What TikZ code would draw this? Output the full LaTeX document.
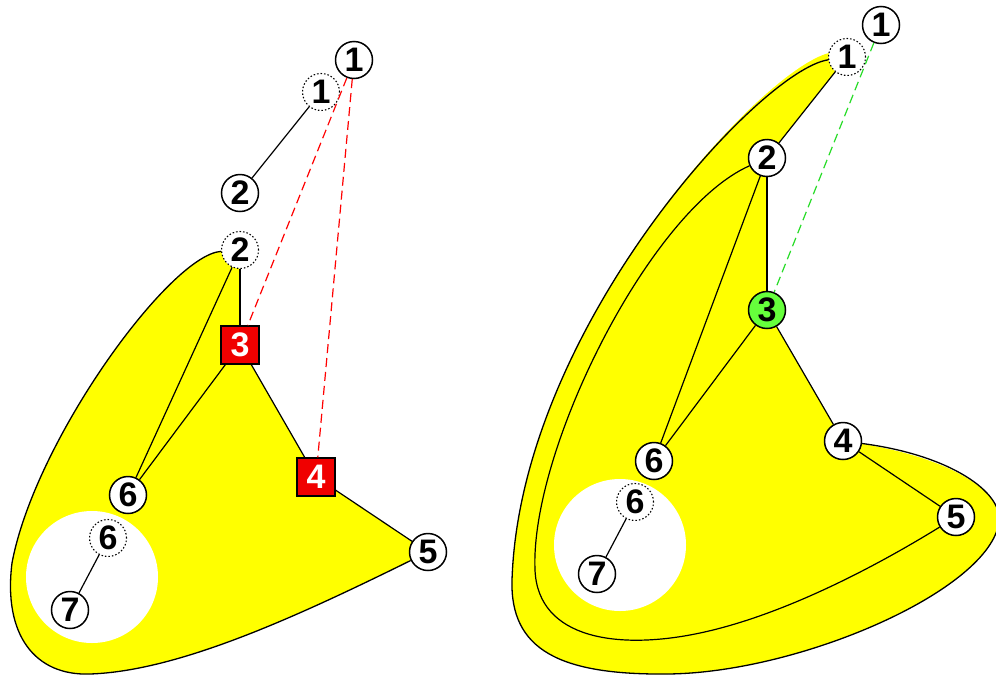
\documentclass[tikz,border=0pt]{standalone}
\usepackage{fontspec}
\setmainfont{Liberation Sans}
\definecolor{hlred}{RGB}{240,0,0}
\definecolor{hlyellow}{RGB}{255,255,0}
\definecolor{hlgreen}{RGB}{102,255,60}
\definecolor{dashgreen}{RGB}{40,220,40}
\tikzset{
  vnode/.style={circle,draw=black,line width=1.5pt,fill=white,minimum size=37pt,inner sep=0pt,
    font=\fontsize{34}{36}\selectfont\bfseries},
  vdot/.style={vnode,dotted,line width=1.1pt},
  vsq/.style={rectangle,draw=black,line width=1.3pt,fill=hlred,minimum size=38pt,inner sep=0pt,
    text=white,font=\fontsize{34}{36}\selectfont\bfseries},
  vgreen/.style={vnode,fill=hlgreen},
  edge/.style={draw=black,line width=1.2pt},
  outline/.style={draw=black,line width=1.3pt},
  reddash/.style={draw=red,line width=1.2pt,dash pattern=on 9pt off 5pt},
  greendash/.style={draw=dashgreen,line width=1.2pt,dash pattern=on 9pt off 5pt},
}
\begin{document}
\begin{tikzpicture}[x=1pt,y=-1pt]
\useasboundingbox (0,0) rectangle (996,675);
% ---------- left picture: coordinates of nodes ----------
\coordinate (La1)  at (354,60);
\coordinate (La1d) at (321,92);
\coordinate (La2)  at (240,193);
\coordinate (La2d) at (240,250);
\coordinate (La3)  at (240,345);
\coordinate (La4)  at (316,477);
\coordinate (La5)  at (428,552);
\coordinate (La6)  at (128,495);
\coordinate (La6d) at (108,538);
\coordinate (La7)  at (70,610);
% yellow region
\fill[hlyellow] (221,251) .. controls (170,255) and (35,440) .. (12,563)
  .. controls (3,635) and (35,676) .. (90,674)
  .. controls (180,671) and (300,615) .. (La5)
  -- (La4) -- (La3) -- (La2d) -- cycle;
\fill[white] (92,577) circle[radius=66];
% ---------- left nodes ----------
\node[vnode] (l1)  at (La1)  {1};
\node[vdot]  (l1d) at (La1d) {1};
\node[vnode] (l2)  at (La2)  {2};
\node[vdot]  (l2d) at (La2d) {2};
\node[vsq]   (l3)  at (La3)  {3};
\node[vsq]   (l4)  at (La4)  {4};
\node[vnode] (l5)  at (La5)  {5};
\node[vnode] (l6)  at (La6)  {6};
\node[vdot]  (l6d) at (La6d) {6};
\node[vnode] (l7)  at (La7)  {7};
% outline
\draw[outline] (l2d) .. controls (170,255) and (35,440) .. (12,563)
  .. controls (3,635) and (35,676) .. (90,674)
  .. controls (180,671) and (300,615) .. (l5);
% edges
\draw[edge] (l1d) -- (l2);
\draw[edge] (l2d) -- (l3);
\draw[edge] (l2d) -- (l6);
\draw[edge] (l3) -- (l6);
\draw[edge] (l3) -- (l4);
\draw[edge] (l4) -- (l5);
\draw[edge] (l6d) -- (l7);
\draw[reddash] (l1) -- (l3);
\draw[reddash] (l1) -- (l4);
% ---------- right picture ----------
\coordinate (Ra1)  at (881,25);
\coordinate (Ra1d) at (847,57);
\coordinate (Ra2)  at (767,158);
\coordinate (Ra3)  at (767,310);
\coordinate (Ra4)  at (843,441);
\coordinate (Ra5)  at (956,517);
\coordinate (Ra6)  at (654,461);
\coordinate (Ra6d) at (635,502);
\coordinate (Ra7)  at (597,574);
\fill[hlyellow] (829,53) .. controls (760,70) and (520,330) .. (512,580)
  .. controls (510,650) and (560,675) .. (667,674)
  .. controls (800,673) and (990,590) .. (999,522)
  .. controls (1003,492) and (950,455) .. (Ra4)
  -- (Ra3) -- (Ra2) -- (Ra1d) -- cycle;
\fill[white] (620,545) circle[radius=66];
\node[vnode]  (r1)  at (Ra1)  {1};
\node[vdot]   (r1d) at (Ra1d) {1};
\node[vnode]  (r2)  at (Ra2)  {2};
\node[vgreen] (r3)  at (Ra3)  {3};
\node[vnode]  (r4)  at (Ra4)  {4};
\node[vnode]  (r5)  at (Ra5)  {5};
\node[vnode]  (r6)  at (Ra6)  {6};
\node[vdot]   (r6d) at (Ra6d) {6};
\node[vnode]  (r7)  at (Ra7)  {7};
\draw[outline] (r1d) .. controls (760,70) and (520,330) .. (512,580)
  .. controls (510,650) and (560,675) .. (667,674)
  .. controls (800,673) and (990,590) .. (999,522)
  .. controls (1003,492) and (950,455) .. (r4);
\draw[edge] (r2) .. controls (650,210) and (530,450) .. (535,570)
  .. controls (538,640) and (620,650) .. (700,633)
  .. controls (780,616) and (870,570) .. (r5);
\draw[edge] (r1d) -- (r2);
\draw[edge] (r2) -- (r3);
\draw[edge] (r2) -- (r6);
\draw[edge] (r3) -- (r6);
\draw[edge] (r3) -- (r4);
\draw[edge] (r4) -- (r5);
\draw[edge] (r6d) -- (r7);
\draw[greendash] (r1) -- (r3);
\end{tikzpicture}
\end{document}
